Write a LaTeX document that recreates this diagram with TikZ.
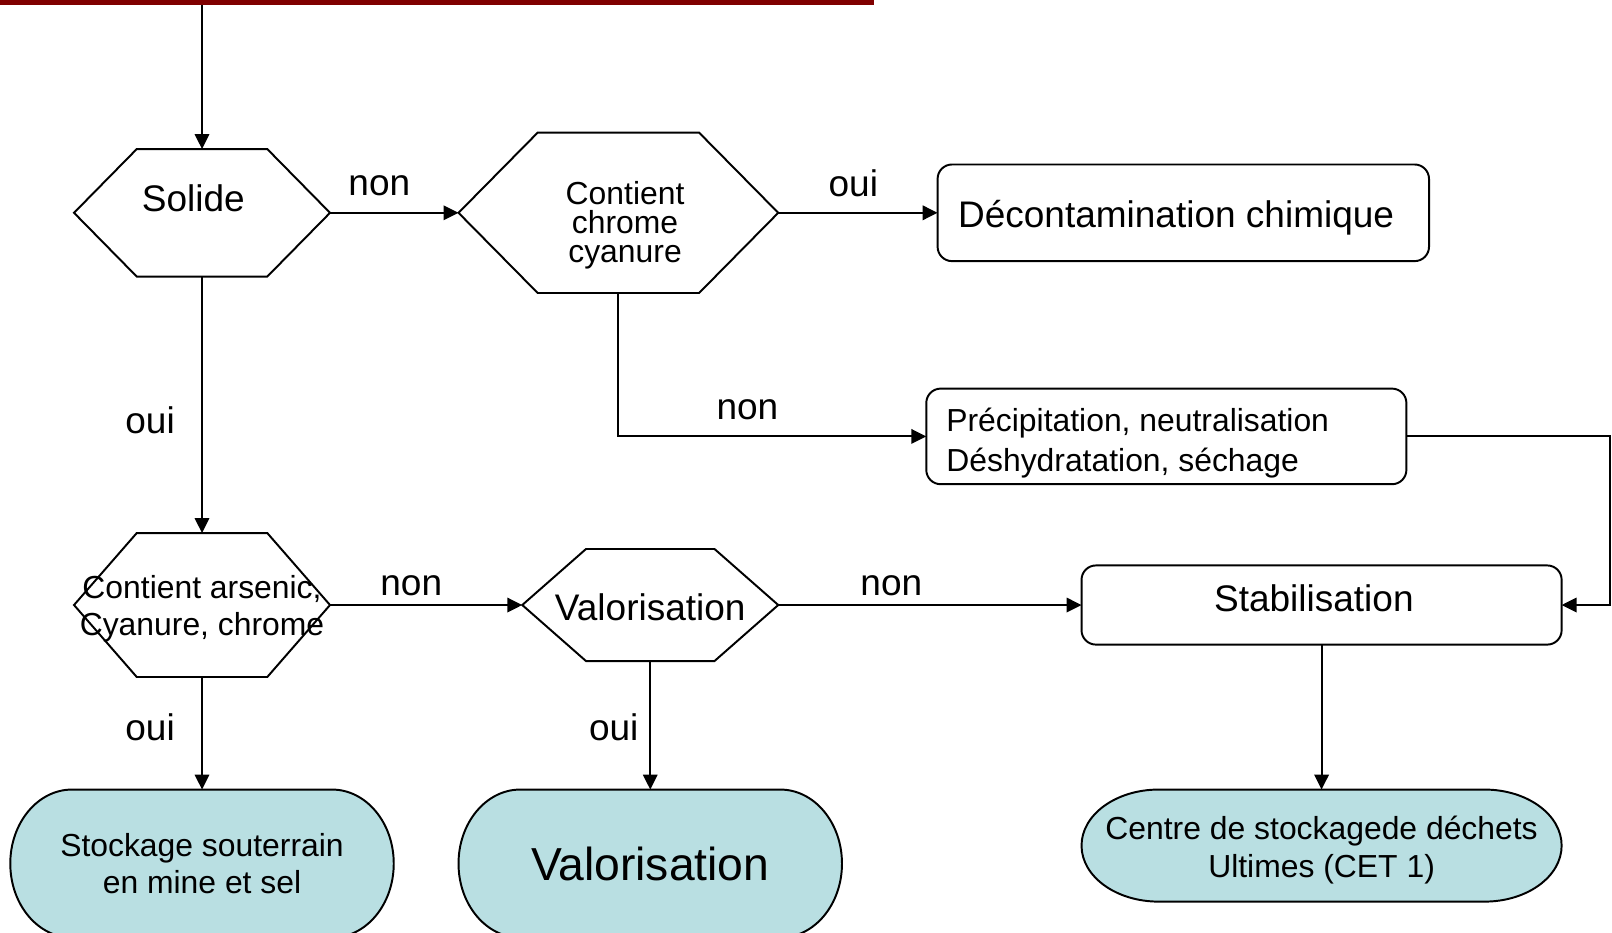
\documentclass[tikz,border=0pt]{standalone}
\usepackage{fontspec}
\setmainfont{Liberation Sans}
\usetikzlibrary{arrows.meta}
\usetikzlibrary{calc}

\pgfdeclarelayer{bg}
\pgfsetlayers{bg,main}

\definecolor{barred}{RGB}{128,0,0}
\definecolor{termfill}{RGB}{185,223,226}

% hexagon round a box node: #1 node, #2 corner inset
\newcommand{\hexa}[2]{%
  \draw[line width=1.9pt] (#1.west) -- ([xshift=#2]#1.north west)
    -- ([xshift=-#2]#1.north east) -- (#1.east)
    -- ([xshift=-#2]#1.south east) -- ([xshift=#2]#1.south west) -- cycle;}
% terminator round a box node: #1 node, #2 #3 end radii
\newcommand{\termshape}[3]{%
  \begin{pgfonlayer}{bg}
  \draw[line width=1.9pt,fill=termfill] ([xshift=#2]#1.north west)
    -- ([xshift=-#2]#1.north east)
    arc[start angle=90,end angle=-90,x radius=#2,y radius=#3]
    -- ([xshift=#2]#1.south west)
    arc[start angle=270,end angle=90,x radius=#2,y radius=#3] -- cycle;
  \end{pgfonlayer}}

\begin{document}
\begin{tikzpicture}[x=1pt,y=-1pt,
  big/.style={font=\fontsize{36}{38}\selectfont},
  small/.style={font=\fontsize{31}{36}\selectfont},
  hexbox/.style={inner sep=0pt,outer sep=0pt},
  box/.style={draw,line width=1.9pt,rounded corners=14pt,inner sep=0pt,outer sep=0pt},
  termbox/.style={inner sep=0pt,outer sep=0pt,align=center},
  link/.style={line width=2pt,-{Triangle[length=14.5pt,width=14pt]}}]
\useasboundingbox (0,0) rectangle (1568,907);
\fill[barred] (0,0) rectangle (850,5);
\coordinate (top) at (196.5,5);

% decisions
\node[hexbox,minimum width=249pt,minimum height=124pt] (sol) at (196.5,207) {};
\node[big] (solT) at (188,193) {Solide};
\hexa{sol}{61pt}

\node[hexbox,minimum width=311pt,minimum height=156pt] (chr) at (601.5,207) {};
\node[align=center,font=\fontsize{31}{28.5}\selectfont] (chrT) at (608,219)
    {Contient\\chrome\\cyanure};
\hexa{chr}{77pt}

\node[hexbox,minimum width=249pt,minimum height=140pt] (ars) at (196.5,588.5) {};
\node[small,align=center] (arsT) at (196.5,592) {Contient arsenic,\\Cyanure, chrome};
\hexa{ars}{61pt}

\node[hexbox,minimum width=249pt,minimum height=109pt] (val) at (632.5,588.5) {};
\node[big] (valT) at (632.5,590.5) {Valorisation};
\hexa{val}{62pt}

% treatments
\node[box,minimum width=478pt,minimum height=94pt] (deco) at (1151,207) {};
\node[big] (decoT) at (1144,212) {Décontamination chimique};
\node[box,minimum width=467pt,minimum height=93pt] (prec) at (1134.5,424.5) {};
\node[align=left,font=\fontsize{31}{39}\selectfont,anchor=west]
    (precT) at (917,431) {Précipitation, neutralisation\\Déshydratation, séchage};
\node[box,minimum width=467pt,minimum height=77pt] (stab) at (1285.5,588.5) {};
\node[big] (stabT) at (1278,582) {Stabilisation};

% ends
\node[termbox,small,minimum width=373pt,minimum height=144pt]
    (stock) at (196.5,840) {Stockage souterrain\\en mine et sel};
\termshape{stock}{60pt}{72pt}
\node[termbox,font=\fontsize{45}{50}\selectfont,minimum width=373pt,minimum height=144pt]
    (valo) at (632.5,840) {Valorisation};
\termshape{valo}{60pt}{72pt}
\node[termbox,minimum width=467pt,minimum height=109pt] (cet) at (1285.5,822.5) {};
\node[align=center,font=\fontsize{31}{37}\selectfont]
    (cetT) at (1285.5,826.5) {Centre de stockagede déchets\\Ultimes (CET 1)};
\termshape{cet}{75pt}{54.5pt}

% connectors
\draw[link] (top) -- (sol.north);
\draw[link] (sol.east) -- (chr.west);
\draw[link] (chr.east) -- (deco.west);
\draw[link] (chr.south) |- (prec.west);
\draw[link] (sol.south) -- (ars.north);
\draw[link] (ars.east) -- (val.west);
\draw[link] (val.east) -- (stab.west);
\draw[link] (prec.east) -- ++(198,0) |- (stab.east);
\draw[link] (ars.south) -- (stock.north);
\draw[link] (val.south) -- (valo.north);
\draw[link] (stab.south) -- (cet.north);

\foreach \t/\x/\y [count=\k] in {non/369/181,oui/830/178,non/727/399,oui/146/409,
    non/400/570,non/867/570,oui/146/707,oui/597/707}{
  \node[big] (lab\k) at (\x,\y) {\t};
}
\end{tikzpicture}
\end{document}
